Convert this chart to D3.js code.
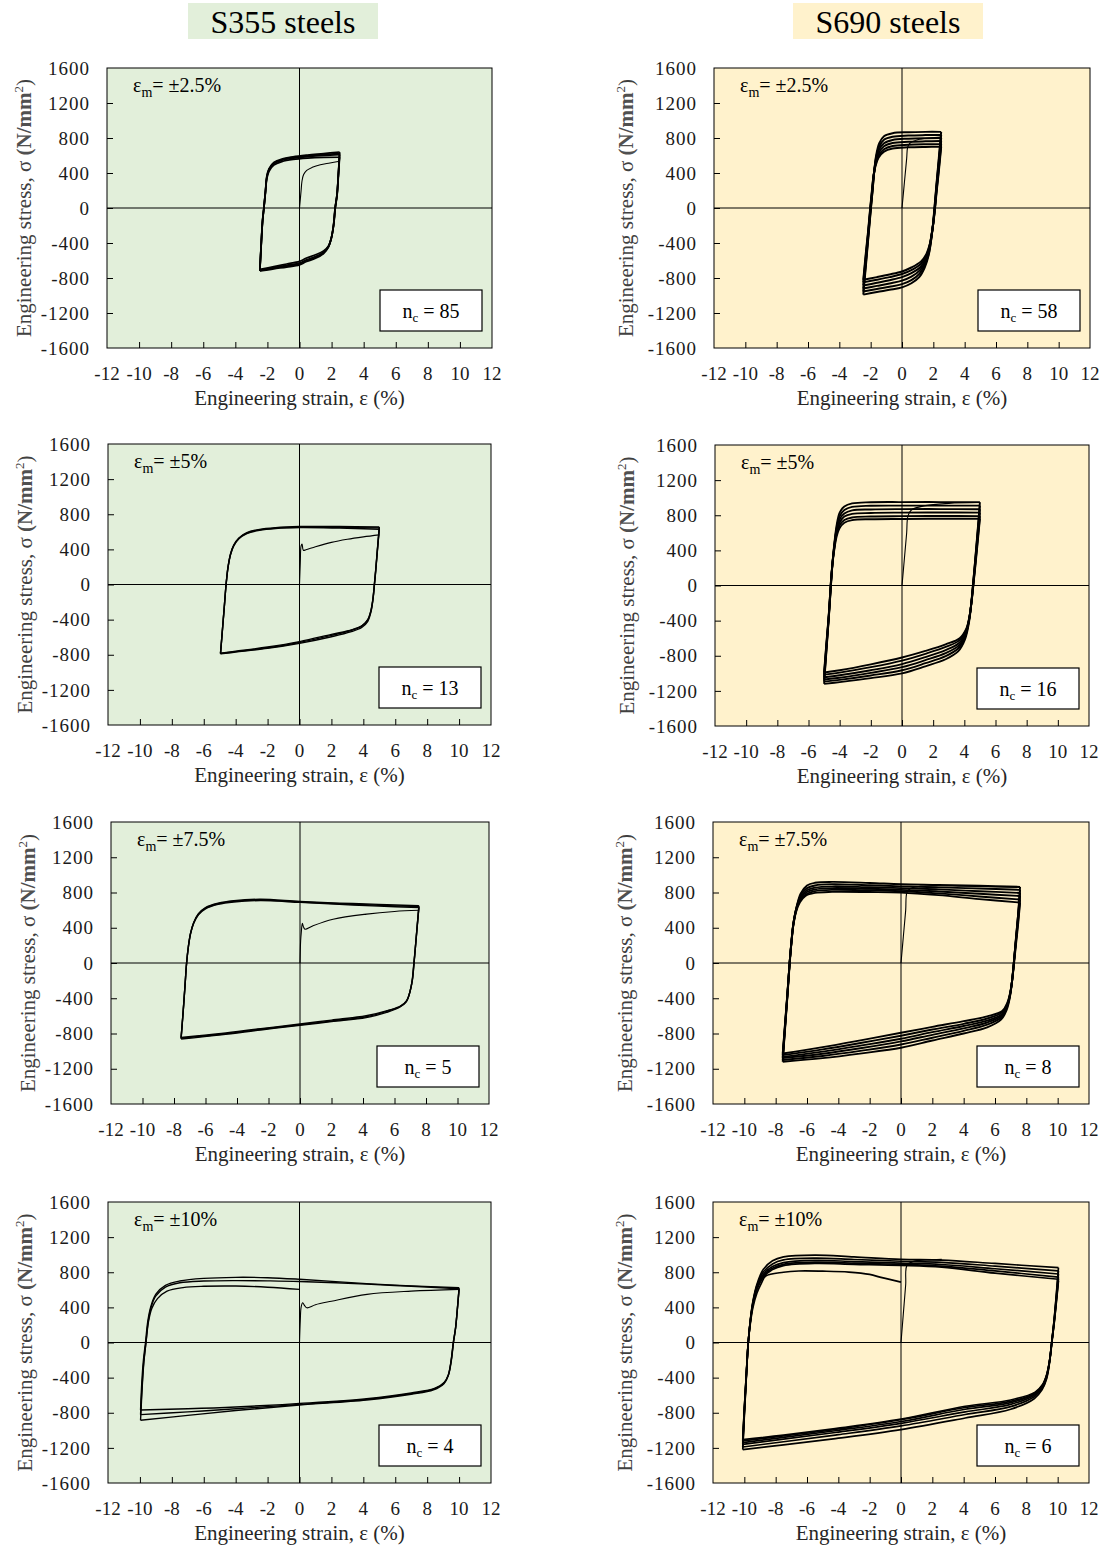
<!DOCTYPE html>
<html><head><meta charset="utf-8">
<script src="https://cdn.jsdelivr.net/npm/d3@7"></script>
<style>
body{margin:0;background:#fff;}
text{font-family:"Liberation Serif","Times New Roman",serif;}
</style>
</head><body>
<svg id="chart" width="1106" height="1549"></svg>
<script>
// ---------- tick labels & categories ----------
const xTicks = [-12,-10,-8,-6,-4,-2,0,2,4,6,8,10,12];
const yTicks = [-1600,-1200,-800,-400,0,400,800,1200,1600];
const groupTitles = ["S355 steels","S690 steels"];
const strainAmps = ["±2.5%","±2.5%","±5%","±5%","±7.5%","±7.5%","±10%","±10%"];
const cycleCounts = [85,58,13,16,5,8,4,6];

// ---------- S355, ±2.5% ----------
const s355_25_initial = [[0,0],[0.1,200],[0.15,300],[0.25,380],[0.45,430],[0.8,465],[1.3,495],[1.9,515],[2.5,535]];
const s355_25_loops = [
 [[2.5,640],[2.42,380],[2.34,160],[2.22,0],[2.12,-200],[1.98,-350],[1.8,-450],[1.5,-520],[1.0,-575],[0.4,-615],[0,-650],[-0.8,-675],[-1.6,-695],[-2.47,-720],[-2.38,-400],[-2.3,-150],[-2.22,0],[-2.12,200],[-2.04,360],[-1.9,450],[-1.6,520],[-1.1,560],[-0.4,585],[0.5,605],[1.5,622],[2.5,640]],
 [[2.5,625],[2.42,375],[2.34,155],[2.22,0],[2.12,-195],[1.98,-345],[1.8,-445],[1.5,-512],[1.0,-565],[0.4,-605],[0,-640],[-0.8,-665],[-1.6,-688],[-2.47,-715],[-2.38,-395],[-2.3,-145],[-2.22,0],[-2.12,195],[-2.04,352],[-1.9,442],[-1.6,512],[-1.1,552],[-0.4,578],[0.5,596],[1.5,611],[2.5,625]],
 [[2.5,610],[2.42,370],[2.34,150],[2.23,0],[2.13,-190],[1.99,-340],[1.8,-440],[1.5,-505],[1.0,-555],[0.4,-595],[0,-630],[-0.8,-655],[-1.6,-680],[-2.47,-710],[-2.38,-390],[-2.3,-140],[-2.22,0],[-2.12,190],[-2.04,345],[-1.9,435],[-1.6,505],[-1.1,545],[-0.4,570],[0.5,588],[1.5,600],[2.5,610]],
 [[2.5,580],[2.42,350],[2.34,140],[2.23,0],[2.14,-180],[2.0,-330],[1.82,-430],[1.5,-490],[1.0,-535],[0.4,-575],[0,-610],[-0.8,-640],[-1.6,-670],[-2.47,-700],[-2.38,-380],[-2.3,-130],[-2.22,0],[-2.12,180],[-2.04,330],[-1.9,420],[-1.6,490],[-1.1,530],[-0.4,555],[0.5,570],[1.5,578],[2.5,580]]
];

// ---------- S690, ±2.5% ----------
const s690_25_initial = [[0,0],[0.1,190],[0.2,380],[0.3,570],[0.36,693],[0.5,740],[1.0,780],[1.8,800],[2.5,810]];
const s690_25_loops = [
 [[2.5,870],[2.35,570],[2.2,270],[2.07,0],[1.97,-200],[1.85,-380],[1.7,-540],[1.45,-680],[1.1,-790],[0.6,-860],[0,-907],[-0.8,-935],[-1.6,-960],[-2.47,-990],[-2.3,-650],[-2.15,-340],[-1.98,0],[-1.88,200],[-1.78,400],[-1.65,600],[-1.45,740],[-1.15,820],[-0.6,855],[0.4,866],[1.5,870],[2.5,870]],
 [[2.5,835],[2.35,540],[2.2,250],[2.08,0],[1.98,-190],[1.86,-360],[1.72,-510],[1.48,-640],[1.12,-750],[0.6,-825],[0,-870],[-0.8,-900],[-1.6,-925],[-2.47,-955],[-2.3,-620],[-2.15,-320],[-1.99,0],[-1.88,200],[-1.79,390],[-1.66,570],[-1.46,700],[-1.15,780],[-0.6,815],[0.4,828],[1.5,833],[2.5,835]],
 [[2.5,800],[2.35,510],[2.2,230],[2.09,0],[1.99,-180],[1.87,-340],[1.73,-480],[1.5,-610],[1.15,-710],[0.6,-785],[0,-830],[-0.8,-862],[-1.6,-890],[-2.47,-920],[-2.3,-590],[-2.15,-300],[-2.0,0],[-1.89,200],[-1.8,380],[-1.67,540],[-1.47,665],[-1.15,740],[-0.6,778],[0.4,792],[1.5,798],[2.5,800]],
 [[2.5,765],[2.35,480],[2.2,210],[2.1,0],[2.0,-170],[1.88,-320],[1.74,-455],[1.52,-580],[1.18,-675],[0.6,-745],[0,-790],[-0.8,-825],[-1.6,-855],[-2.47,-885],[-2.3,-560],[-2.15,-280],[-2.01,0],[-1.9,200],[-1.81,370],[-1.68,515],[-1.48,630],[-1.15,705],[-0.6,742],[0.4,756],[1.5,762],[2.5,765]],
 [[2.5,730],[2.35,450],[2.2,190],[2.1,0],[2.0,-165],[1.89,-305],[1.76,-430],[1.54,-550],[1.2,-640],[0.6,-710],[0,-755],[-0.8,-790],[-1.6,-820],[-2.47,-850],[-2.3,-530],[-2.15,-260],[-2.02,0],[-1.91,200],[-1.82,360],[-1.69,495],[-1.49,600],[-1.15,672],[-0.6,708],[0.4,722],[1.5,728],[2.5,730]],
 [[2.5,700],[2.35,420],[2.2,170],[2.11,0],[2.01,-160],[1.9,-290],[1.78,-410],[1.56,-525],[1.22,-610],[0.6,-680],[0,-725],[-0.8,-760],[-1.6,-790],[-2.47,-820],[-2.3,-500],[-2.15,-240],[-2.03,0],[-1.92,200],[-1.83,350],[-1.7,475],[-1.5,575],[-1.15,645],[-0.6,680],[0.4,693],[1.5,698],[2.5,700]]
];

// ---------- S355, ±5% ----------
const s355_50_initial = [[0,0],[0.05,250],[0.1,440],[0.16,460],[0.24,390],[0.4,395],[1.0,430],[2.0,480],[3.0,515],[4.0,542],[5.0,565]];
const s355_50_loops = [
 [[5.0,655],[4.88,400],[4.78,180],[4.69,0],[4.6,-170],[4.48,-310],[4.28,-420],[3.9,-490],[3.2,-540],[2.0,-595],[0,-670],[-2.0,-728],[-4.0,-770],[-4.95,-790],[-4.82,-500],[-4.7,-230],[-4.6,0],[-4.48,200],[-4.32,350],[-4.12,450],[-3.8,530],[-3.3,590],[-2.5,628],[-1.5,648],[0,660],[2.5,660],[5.0,655]],
 [[5.0,645],[4.88,390],[4.78,170],[4.69,0],[4.6,-165],[4.47,-300],[4.25,-410],[3.85,-480],[3.1,-530],[2.0,-580],[0,-660],[-2.0,-720],[-4.0,-765],[-4.95,-785],[-4.82,-495],[-4.7,-225],[-4.6,0],[-4.48,195],[-4.32,345],[-4.12,445],[-3.8,525],[-3.3,585],[-2.5,622],[-1.5,642],[0,652],[2.5,650],[5.0,645]],
 [[5.0,630],[4.88,380],[4.78,160],[4.7,0],[4.61,-160],[4.49,-290],[4.3,-395],[3.95,-465],[3.3,-515],[2.0,-568],[0,-650],[-2.0,-712],[-4.0,-760],[-4.95,-782],[-4.82,-490],[-4.7,-220],[-4.6,0],[-4.48,190],[-4.32,340],[-4.12,440],[-3.8,520],[-3.3,580],[-2.5,618],[-1.5,638],[0,648],[2.5,642],[5.0,630]]
];

// ---------- S690, ±5% ----------
const s690_50_initial = [[0,0],[0.1,200],[0.2,400],[0.3,600],[0.38,790],[0.6,860],[1.5,910],[3.0,935],[5.0,945]];
const s690_50_loops = [
 [[5.0,950],[4.85,620],[4.7,300],[4.55,0],[4.45,-200],[4.3,-420],[4.05,-610],[3.6,-750],[2.8,-840],[1.5,-920],[0,-1000],[-2.0,-1055],[-4.0,-1100],[-5.0,-1120],[-4.85,-750],[-4.7,-380],[-4.56,0],[-4.45,280],[-4.33,500],[-4.18,700],[-4.0,830],[-3.7,900],[-3.2,935],[-2.0,948],[0,950],[2.5,950],[5.0,950]],
 [[5.0,910],[4.85,600],[4.7,290],[4.55,0],[4.45,-190],[4.3,-400],[4.06,-580],[3.62,-715],[2.8,-805],[1.5,-885],[0,-965],[-2.0,-1025],[-4.0,-1075],[-5.0,-1095],[-4.85,-730],[-4.7,-370],[-4.56,0],[-4.45,270],[-4.33,480],[-4.18,670],[-4.0,790],[-3.7,860],[-3.2,895],[-2.0,908],[0,910],[2.5,910],[5.0,910]],
 [[5.0,870],[4.85,570],[4.7,270],[4.56,0],[4.46,-180],[4.31,-385],[4.08,-555],[3.64,-685],[2.8,-770],[1.5,-850],[0,-930],[-2.0,-995],[-4.0,-1050],[-5.0,-1070],[-4.85,-710],[-4.7,-360],[-4.57,0],[-4.46,260],[-4.34,460],[-4.19,640],[-4.0,755],[-3.7,820],[-3.2,855],[-2.0,866],[0,870],[2.5,870],[5.0,868]],
 [[5.0,830],[4.85,540],[4.7,250],[4.57,0],[4.47,-175],[4.32,-370],[4.1,-530],[3.66,-655],[2.8,-735],[1.5,-815],[0,-895],[-2.0,-965],[-4.0,-1022],[-5.0,-1045],[-4.85,-690],[-4.7,-350],[-4.57,0],[-4.46,250],[-4.34,440],[-4.19,610],[-4.0,720],[-3.7,785],[-3.2,815],[-2.0,826],[0,830],[2.5,832],[5.0,830]],
 [[5.0,790],[4.85,510],[4.7,230],[4.57,0],[4.47,-170],[4.33,-355],[4.12,-505],[3.68,-625],[2.8,-700],[1.5,-778],[0,-855],[-2.0,-930],[-4.0,-992],[-5.0,-1015],[-4.85,-670],[-4.7,-340],[-4.58,0],[-4.47,240],[-4.35,420],[-4.2,580],[-4.0,685],[-3.7,745],[-3.2,775],[-2.0,786],[0,790],[2.5,792],[5.0,790]],
 [[5.0,760],[4.85,480],[4.7,210],[4.58,0],[4.48,-165],[4.34,-340],[4.14,-485],[3.7,-600],[2.8,-670],[1.5,-745],[0,-820],[-2.0,-898],[-4.0,-965],[-5.0,-990],[-4.85,-650],[-4.7,-330],[-4.58,0],[-4.47,230],[-4.35,400],[-4.2,555],[-4.0,655],[-3.7,715],[-3.2,745],[-2.0,755],[0,758],[2.5,760],[5.0,760]]
];

// ---------- S355, ±7.5% ----------
const s355_75_initial = [[0,0],[0.04,250],[0.08,345],[0.15,450],[0.22,410],[0.32,383],[0.8,420],[2.1,496],[4.23,555],[6.0,585],[7.55,598]];
const s355_75_loops = [
 [[7.55,650],[7.42,380],[7.32,170],[7.23,0],[7.12,-200],[6.98,-330],[6.75,-440],[6.3,-505],[5.5,-560],[4.2,-620],[2.0,-665],[0,-708],[-2.5,-760],[-5.0,-815],[-7.55,-862],[-7.42,-560],[-7.3,-260],[-7.2,0],[-7.08,200],[-6.95,340],[-6.75,460],[-6.45,560],[-6.0,630],[-5.2,680],[-4.2,708],[-2.5,723],[0,698],[2.5,680],[5.0,665],[7.55,650]],
 [[7.55,640],[7.42,375],[7.32,165],[7.24,0],[7.13,-195],[6.99,-320],[6.77,-430],[6.35,-495],[5.5,-548],[4.2,-610],[2.0,-658],[0,-700],[-2.5,-752],[-5.0,-808],[-7.55,-852],[-7.42,-555],[-7.3,-255],[-7.2,0],[-7.08,195],[-6.95,335],[-6.75,455],[-6.45,553],[-6.0,622],[-5.2,672],[-4.2,700],[-2.5,715],[0,692],[2.5,672],[5.0,655],[7.55,640]],
 [[7.55,630],[7.42,365],[7.32,160],[7.24,0],[7.14,-190],[7.0,-310],[6.8,-420],[6.4,-485],[5.6,-538],[4.2,-598],[2.0,-648],[0,-692],[-2.5,-745],[-5.0,-800],[-7.55,-845],[-7.42,-550],[-7.3,-250],[-7.2,0],[-7.08,190],[-6.95,330],[-6.75,450],[-6.45,548],[-6.0,615],[-5.2,665],[-4.2,693],[-2.5,708],[0,688],[2.5,665],[5.0,645],[7.55,630]]
];

// ---------- S690, ±7.5% ----------
const s690_75_initial = [[0,0],[0.1,200],[0.2,400],[0.3,600],[0.38,800],[0.6,845],[1.1,868],[2.0,878],[4.0,872],[7.6,858]];
const s690_75_loops = [
 [[7.6,864],[7.48,560],[7.33,270],[7.2,0],[7.08,-220],[6.95,-390],[6.75,-530],[6.4,-640],[5.5,-730],[4.0,-800],[2.0,-880],[0,-962],[-2.5,-1025],[-5.0,-1080],[-7.55,-1121],[-7.4,-750],[-7.25,-380],[-7.1,0],[-6.98,260],[-6.85,470],[-6.65,650],[-6.4,790],[-6.0,880],[-5.5,910],[-4.4,920],[-2.0,908],[0,894],[2.4,886],[5.0,876],[7.6,864]],
 [[7.6,830],[7.47,540],[7.33,260],[7.2,0],[7.08,-210],[6.95,-375],[6.75,-510],[6.42,-615],[5.5,-700],[4.0,-770],[2.0,-848],[0,-925],[-2.5,-995],[-5.0,-1055],[-7.55,-1100],[-7.4,-735],[-7.25,-370],[-7.11,0],[-6.99,255],[-6.86,460],[-6.66,635],[-6.4,770],[-6.0,850],[-5.5,880],[-4.4,895],[-2.0,882],[0,870],[2.4,858],[5.0,845],[7.6,830]],
 [[7.6,795],[7.47,520],[7.33,250],[7.2,0],[7.09,-205],[6.96,-365],[6.76,-495],[6.43,-595],[5.5,-675],[4.0,-742],[2.0,-815],[0,-890],[-2.5,-965],[-5.0,-1030],[-7.55,-1080],[-7.4,-720],[-7.25,-360],[-7.11,0],[-6.99,250],[-6.87,450],[-6.67,625],[-6.4,750],[-6.0,825],[-5.5,855],[-4.4,870],[-2.0,860],[0,850],[2.4,835],[5.0,815],[7.6,795]],
 [[7.6,760],[7.47,495],[7.33,240],[7.2,0],[7.09,-200],[6.96,-355],[6.77,-480],[6.44,-580],[5.5,-655],[4.0,-715],[2.0,-785],[0,-860],[-2.5,-935],[-5.0,-1005],[-7.55,-1065],[-7.4,-710],[-7.25,-355],[-7.11,0],[-6.99,245],[-6.87,440],[-6.67,615],[-6.42,735],[-6.0,805],[-5.5,835],[-4.4,850],[-2.0,842],[0,830],[2.4,812],[5.0,785],[7.6,760]],
 [[7.6,720],[7.47,470],[7.33,225],[7.21,0],[7.1,-195],[6.97,-345],[6.78,-465],[6.45,-560],[5.5,-630],[4.0,-690],[2.0,-755],[0,-825],[-2.5,-905],[-5.0,-980],[-7.55,-1045],[-7.4,-695],[-7.25,-345],[-7.11,0],[-6.99,240],[-6.87,430],[-6.68,600],[-6.43,715],[-6.0,785],[-5.5,815],[-4.4,830],[-2.0,825],[0,815],[2.4,790],[5.0,755],[7.6,720]],
 [[7.6,686],[7.48,450],[7.34,210],[7.22,0],[7.1,-190],[6.97,-335],[6.79,-450],[6.46,-545],[5.5,-605],[4.0,-660],[2.0,-725],[0,-792],[-2.5,-875],[-5.0,-955],[-7.55,-1027],[-7.4,-680],[-7.25,-340],[-7.11,0],[-6.99,230],[-6.88,420],[-6.7,580],[-6.45,690],[-6.1,761],[-5.5,795],[-4.4,807],[-2.0,805],[0,799],[2.4,770],[5.0,725],[7.6,686]]
];

// ---------- S355, ±10% ----------
const s355_100_initial = [[0,0],[0.05,250],[0.1,400],[0.2,452],[0.32,420],[0.46,395],[1.0,430],[2.0,470],[4.23,548],[7.0,585],[10.0,605]];
const s355_100_loops = [
 [[10.0,605],[9.88,350],[9.78,160],[9.65,0],[9.52,-200],[9.35,-360],[9.1,-450],[8.5,-520],[7.0,-575],[4.2,-640],[0,-695],[-4.0,-735],[-7.0,-755],[-9.96,-768],[-9.88,-450],[-9.78,-200],[-9.65,0],[-9.5,250],[-9.3,420],[-9.0,550],[-8.4,650],[-7.5,700],[-6.0,730],[-4.0,742],[-2.0,738],[0,720],[4.2,670],[7.0,645],[10.0,624]],
 [[10.0,624],[9.88,360],[9.78,170],[9.64,0],[9.5,-210],[9.32,-380],[9.05,-470],[8.4,-540],[7.0,-590],[4.2,-655],[0,-712],[-4.0,-775],[-7.0,-830],[-9.96,-886],[-9.86,-520],[-9.76,-240],[-9.62,0],[-9.48,240],[-9.3,400],[-9.0,530],[-8.4,630],[-7.5,680],[-6.0,700],[-4.0,705],[-2.0,702],[0,695],[4.2,665],[7.0,640],[10.0,612]],
 [[10.0,612],[9.88,355],[9.78,165],[9.64,0],[9.5,-205],[9.32,-370],[9.05,-462],[8.4,-532],[7.0,-582],[4.2,-648],[0,-705],[-4.0,-755],[-7.0,-790],[-9.96,-821],[-9.86,-480],[-9.76,-220],[-9.62,0],[-9.46,240],[-9.25,390],[-8.9,500],[-8.3,585],[-7.3,625],[-6.0,640],[-4.0,643],[-2.0,630],[0,605]]
];

// ---------- S690, ±10% ----------
const s690_100_initial = [[0,0],[0.1,220],[0.2,440],[0.3,660],[0.38,878],[0.8,925],[1.6,940],[2.6,947]];
const s690_100_loops = [
 [[10.05,852],[9.92,560],[9.78,270],[9.62,0],[9.48,-230],[9.3,-410],[9.0,-540],[8.5,-640],[7.0,-760],[4.1,-860],[0,-992],[-4.0,-1090],[-7.5,-1165],[-10.1,-1220],[-10.0,-830],[-9.88,-420],[-9.75,0],[-9.6,280],[-9.45,470],[-9.2,660],[-8.8,830],[-8.2,930],[-7.5,975],[-5.5,996],[-3.0,975],[0,947],[2.6,939],[6.0,900],[10.05,852]],
 [[10.05,815],[9.92,540],[9.78,260],[9.62,0],[9.48,-220],[9.3,-395],[9.02,-520],[8.52,-615],[7.0,-730],[4.1,-820],[0,-950],[-4.0,-1050],[-7.5,-1130],[-10.1,-1190],[-10.0,-810],[-9.88,-410],[-9.75,0],[-9.6,275],[-9.45,460],[-9.2,645],[-8.8,800],[-8.2,895],[-7.5,940],[-5.5,960],[-3.0,945],[0,925],[2.6,912],[6.0,870],[10.05,815]],
 [[10.05,780],[9.92,515],[9.78,250],[9.62,0],[9.48,-215],[9.3,-385],[9.03,-505],[8.54,-595],[7.0,-705],[4.1,-790],[0,-920],[-4.0,-1020],[-7.5,-1100],[-10.1,-1160],[-10.0,-790],[-9.88,-400],[-9.75,0],[-9.6,270],[-9.45,450],[-9.2,630],[-8.8,775],[-8.2,865],[-7.5,910],[-5.5,935],[-3.0,922],[0,905],[2.6,888],[6.0,840],[10.05,780]],
 [[10.05,745],[9.92,495],[9.78,240],[9.62,0],[9.48,-210],[9.3,-375],[9.04,-490],[8.55,-580],[7.0,-685],[4.1,-760],[0,-900],[-4.0,-1000],[-7.5,-1080],[-10.1,-1140],[-10.0,-775],[-9.88,-390],[-9.75,0],[-9.6,265],[-9.45,440],[-9.2,615],[-8.8,755],[-8.2,845],[-7.5,890],[-5.5,915],[-3.0,903],[0,890],[2.6,870],[6.0,815],[10.05,745]],
 [[10.05,720],[9.92,480],[9.78,230],[9.63,0],[9.49,-205],[9.3,-370],[9.05,-480],[8.56,-574],[7.0,-670],[4.1,-740],[0,-880],[-4.0,-985],[-7.5,-1065],[-10.1,-1120],[-10.0,-760],[-9.88,-385],[-9.75,0],[-9.6,260],[-9.45,430],[-9.2,600],[-8.8,740],[-8.2,830],[-7.5,875],[-5.5,900],[-3.0,890],[0,878],[2.6,858],[6.0,790],[10.05,720]],
 [[10.05,700],[9.92,465],[9.78,225],[9.63,0],[9.49,-200],[9.3,-365],[9.05,-475],[8.56,-565],[7.0,-655],[4.1,-726],[0,-871],[-4.0,-975],[-7.5,-1055],[-10.1,-1106],[-10.0,-750],[-9.88,-380],[-9.75,0],[-9.6,240],[-9.45,400],[-9.2,560],[-8.9,680],[-8.64,757],[-7.5,800],[-6.52,814],[-5.0,812],[-3.33,802],[-2.0,775],[-1.21,738],[0,688]]
];

const panelInitial = [s355_25_initial,s690_25_initial,s355_50_initial,s690_50_initial,s355_75_initial,s690_75_initial,s355_100_initial,s690_100_initial];
const panelLoops = [s355_25_loops,s690_25_loops,s355_50_loops,s690_50_loops,s355_75_loops,s690_75_loops,s355_100_loops,s690_100_loops];

// ---------- layout (pixels) ----------
const layout = [
 {L:107,T:68,W:385,H:280},{L:714,T:68,W:376,H:280},
 {L:108,T:444,W:383,H:281},{L:715,T:445,W:374,H:281},
 {L:111,T:822,W:378,H:282},{L:713,T:822,W:376,H:282},
 {L:108,T:1202,W:383,H:281},{L:713,T:1202,W:376,H:281}
];
const lineWidths = [1.7,2.0,1.4,1.9,1.4,1.9,1.4,1.7];
const bgColors = ["#e2efda","#fff2cc"];

const svg = d3.select("#chart");
svg.append("rect").attr("width",1106).attr("height",1549).attr("fill","#fff");

// column titles
const titleBoxes = [{x:188,w:190,cx:283},{x:793,w:190,cx:888}];
titleBoxes.forEach((b,i)=>{
  svg.append("rect").attr("x",b.x).attr("y",3).attr("width",b.w).attr("height",36).attr("fill",bgColors[i]);
  svg.append("text").attr("x",b.cx).attr("y",33).attr("text-anchor","middle")
     .attr("font-size",32).attr("fill","#000").text(groupTitles[i]);
});

layout.forEach((p,i)=>{
  const col = i%2;
  const x = d3.scaleLinear().domain([-12,12]).range([p.L,p.L+p.W]);
  const y = d3.scaleLinear().domain([-1600,1600]).range([p.T+p.H,p.T]);
  const g = svg.append("g");
  const clipId = "clip"+i;
  g.append("clipPath").attr("id",clipId).append("rect").attr("x",p.L).attr("y",p.T).attr("width",p.W).attr("height",p.H);

  g.append("rect").attr("x",p.L).attr("y",p.T).attr("width",p.W).attr("height",p.H).attr("fill",bgColors[col]);

  // zero lines
  g.append("line").attr("x1",x(0)).attr("x2",x(0)).attr("y1",p.T).attr("y2",p.T+p.H).attr("stroke","#000").attr("stroke-width",1);
  g.append("line").attr("x1",p.L).attr("x2",p.L+p.W).attr("y1",y(0)).attr("y2",y(0)).attr("stroke","#000").attr("stroke-width",1);

  const line = d3.line().x(d=>x(d[0])).y(d=>y(d[1])).curve(d3.curveCatmullRom.alpha(0.5));
  const curves = g.append("g").attr("clip-path",`url(#${clipId})`);
  const lw = lineWidths[i];
  panelLoops[i].forEach(loop=>{
    const iMin = d3.minIndex(loop,d=>d[0]);
    const desc = loop.slice(0,iMin+1), asc = loop.slice(iMin);
    [desc,asc].forEach(seg=>{
      curves.append("path").attr("d",line(seg)).attr("fill","none")
        .attr("stroke","#000").attr("stroke-width",lw).attr("stroke-linejoin","round");
    });
  });
  curves.append("path").attr("d",line(panelInitial[i])).attr("fill","none")
    .attr("stroke","#000").attr("stroke-width",1.1);

  // frame
  g.append("rect").attr("x",p.L).attr("y",p.T).attr("width",p.W).attr("height",p.H)
    .attr("fill","none").attr("stroke","#000").attr("stroke-width",1);

  // inward ticks
  const xAxis = d3.axisTop(x).tickValues(xTicks.filter(v=>v>-12&&v<12)).tickSize(6).tickFormat("");
  const xa = g.append("g").attr("transform",`translate(0,${p.T+p.H})`).call(xAxis);
  xa.select(".domain").remove();
  xa.selectAll("line").attr("stroke","#000");
  const yAxis = d3.axisRight(y).tickValues(yTicks.filter(v=>v>-1600&&v<1600)).tickSize(6).tickFormat("");
  const ya = g.append("g").attr("transform",`translate(${p.L},0)`).call(yAxis);
  ya.select(".domain").remove();
  ya.selectAll("line").attr("stroke","#000");

  // tick labels
  xTicks.forEach(v=>{
    g.append("text").attr("x",x(v)).attr("y",p.T+p.H+32).attr("text-anchor","middle")
     .attr("font-size",19).attr("fill","#1a1a1a").text(v<0?"-"+Math.abs(v):String(v));
  });
  yTicks.forEach(v=>{
    g.append("text").attr("x",p.L-17).attr("y",y(v)).attr("dy","0.35em").attr("text-anchor","end")
     .attr("font-size",19).attr("letter-spacing",1).attr("fill","#1a1a1a").text(v<0?"-"+Math.abs(v):String(v));
  });

  // axis titles
  g.append("text").attr("x",p.L+p.W/2).attr("y",p.T+p.H+57).attr("text-anchor","middle")
   .attr("font-size",21).attr("fill","#262626").text("Engineering strain, ε (%)");
  const yt = g.append("text").attr("transform",`translate(${col===0?p.L-76:p.L-81},${p.T+p.H/2}) rotate(-90)`)
   .attr("text-anchor","middle").attr("font-size",21).attr("fill","#404040");
  yt.append("tspan").text("Engineering stress, σ ");
  yt.append("tspan").attr("font-weight","bold").attr("fill","#505050").text("(N/mm");
  yt.append("tspan").attr("font-size",13).attr("dy",-8).text("2");
  yt.append("tspan").attr("dy",8).text(")");

  // strain amplitude annotation
  const ea = g.append("text").attr("x",p.L+26).attr("y",p.T+24).attr("font-size",20).attr("fill","#000");
  ea.append("tspan").text("ε");
  ea.append("tspan").attr("font-size",14).attr("dy",5).text("m");
  ea.append("tspan").attr("dy",-5).text("= "+strainAmps[i]);

  // cycles box
  const bw=102,bh=41,bx=p.L+p.W-10-bw,by=p.T+p.H-17-bh;
  g.append("rect").attr("x",bx).attr("y",by).attr("width",bw).attr("height",bh)
   .attr("fill","#fff").attr("stroke","#000").attr("stroke-width",1.2);
  const nt = g.append("text").attr("x",bx+bw/2).attr("y",by+bh/2+7).attr("text-anchor","middle")
   .attr("font-size",20).attr("fill","#000");
  nt.append("tspan").text("n");
  nt.append("tspan").attr("font-size",13).attr("dy",4).text("c");
  nt.append("tspan").attr("dy",-4).text(" = "+cycleCounts[i]);
});
</script>
</body></html>
